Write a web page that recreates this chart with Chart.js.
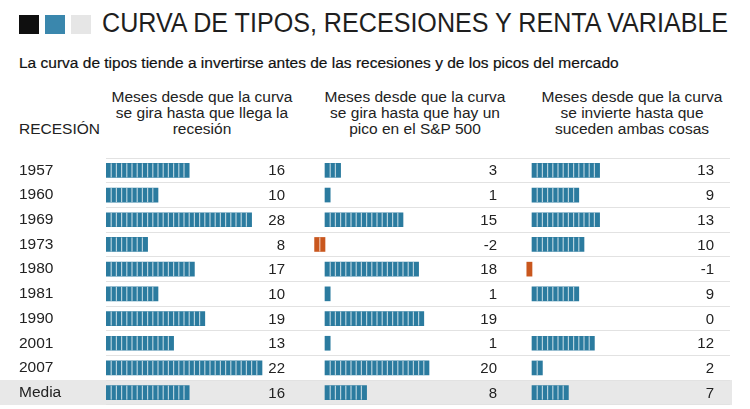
<!DOCTYPE html>
<html lang="es">
<head>
<meta charset="utf-8">
<title>Curva de tipos, recesiones y renta variable</title>
<script src="https://cdn.jsdelivr.net/npm/chart.js@4.4.1/dist/chart.umd.min.js"></script>
<style>
  html, body { margin: 0; padding: 0; background: #fff; }
  body {
    width: 750px; height: 409px; position: relative; overflow: hidden;
    font-family: "Liberation Sans", Arial, sans-serif; color: #222;
  }
  .sq { position: absolute; top: 15px; width: 20px; height: 19px; }
  #titulo {
    position: absolute; left: 102px; top: 8px; font-size: 27px; white-space: nowrap;
    transform-origin: left top; transform: scaleX(0.93); color: #1e1e1e;
  }
  #subtitulo {
    position: absolute; left: 19px; top: 54px; font-size: 15.5px; white-space: nowrap; color: #111;
    -webkit-text-stroke: 0.2px #111;
  }
  .cab {
    position: absolute; top: 89px; width: 240px; margin-left: -120px;
    text-align: center; font-size: 15.5px; line-height: 16px;
  }
  #recesion { position: absolute; left: 19px; top: 120px; font-size: 15.5px; }
  #media-fondo { position: absolute; left: 0; width: 732px; top: 380px; height: 25px; background: #e8e8e8; }
  canvas { position: absolute; top: 157px; }
</style>
</head>
<body>
<div class="sq" style="left:19px;background:#0f0f0f"></div>
<div class="sq" style="left:45px;background:#3a87ad"></div>
<div class="sq" style="left:71px;background:#e6e6e6"></div>
<div id="titulo">CURVA DE TIPOS, RECESIONES Y RENTA VARIABLE</div>
<div id="subtitulo">La curva de tipos tiende a invertirse antes de las recesiones y de los picos del mercado</div>
<div id="recesion">RECESIÓN</div>
<div class="cab" style="left:202px">Meses desde que la curva<br>se gira hasta que llega la<br>recesión</div>
<div class="cab" style="left:415px">Meses desde que la curva<br>se gira hasta que hay un<br>pico en el S&amp;P 500</div>
<div class="cab" style="left:632px">Meses desde que la curva<br>se invierte hasta que<br>suceden ambas cosas</div>
<div id="media-fondo"></div>

<canvas id="col1" width="301" height="249" style="left:0"></canvas>
<canvas id="col2" width="212" height="249" style="left:301px"></canvas>
<canvas id="col3" width="217" height="249" style="left:513px"></canvas>

<script>
const ANIOS = ["1957", "1960", "1969", "1973", "1980", "1981", "1990", "2001", "2007", "Media"];

// meses hasta la recesión (cifra) y largo de la barra dibujada:
// en el original la barra de 2007 mide 30 aunque la cifra dice 22
const mesesRecesion = [16, 10, 28, 8, 17, 10, 19, 13, 22, 16];
const barraRecesion = [16, 10, 28, 8, 17, 10, 19, 13, 30, 16];
const mesesPicoSP = [3, 1, 15, -2, 18, 1, 19, 1, 20, 8];
const mesesAmbas = [13, 9, 13, 10, -1, 9, 0, 12, 2, 7];

const AZUL = '#2b7b9f';
const NARANJA = '#c9571e';
const PX_POR_MES = 5.2;

// separa cada barra en bloques de un mes y escribe la cifra a la derecha
const bloquesYCifras = {
  id: 'bloquesYCifras',
  afterDatasetsDraw(chart, args, opts) {
    const ctx = chart.ctx;
    const x = chart.scales.x;
    const meta = chart.getDatasetMeta(0);
    const datos = chart.data.datasets[0].data;
    ctx.save();
    meta.data.forEach((bar, i) => {
      const v = datos[i];
      const h = bar.height;
      ctx.fillStyle = 'rgba(255,255,255,0.65)';
      for (let k = 1; k < Math.abs(v); k++) {
        const px = x.getPixelForValue(Math.sign(v) * k);
        ctx.fillRect(px - 0.6, bar.y - h / 2, 1.2, h);
      }
      ctx.fillStyle = '#222';
      ctx.font = '15px "Liberation Sans", Arial, sans-serif';
      ctx.textAlign = 'right';
      ctx.textBaseline = 'middle';
      ctx.fillText(String(opts.cifras[i]), chart.chartArea.right - 16, bar.y + 1);
    });
    ctx.restore();
  }
};

function crearColumna(id, valores, cifras, ceroPx, conAnios) {
  const canvas = document.getElementById(id);
  const izq = conAnios ? 106 : 0;
  const ancho = canvas.width - izq;
  return new Chart(canvas, {
    type: 'bar',
    data: {
      labels: ANIOS,
      datasets: [{
        data: valores,
        backgroundColor: valores.map(v => v < 0 ? NARANJA : (v === 0 ? 'rgba(0,0,0,0)' : AZUL)),
        borderWidth: 0,
        barThickness: 14
      }]
    },
    plugins: [bloquesYCifras],
    options: {
      indexAxis: 'y',
      responsive: false,
      animation: false,
      layout: { padding: { left: conAnios ? 19 : 0, top: 1, bottom: 1, right: 0 } },
      scales: {
        x: {
          type: 'linear',
          display: false,
          min: -(ceroPx - izq) / PX_POR_MES,
          max: (ancho - (ceroPx - izq)) / PX_POR_MES
        },
        y: {
          type: 'category',
          grid: { offset: true, color: '#e2e2e2', lineWidth: 1, drawTicks: false },
          border: { display: false },
          ticks: {
            display: conAnios,
            crossAlign: 'far',
            padding: 0,
            color: '#222',
            font: { family: '"Liberation Sans", Arial, sans-serif', size: 15.5 }
          },
          afterFit: s => {
            s.width = conAnios ? 87 : 0;
            s.paddingTop = 0;
            s.paddingBottom = 0;
          }
        }
      },
      plugins: {
        legend: { display: false },
        tooltip: { enabled: false },
        bloquesYCifras: { cifras: cifras }
      }
    }
  });
}

crearColumna('col1', barraRecesion, mesesRecesion, 106, true);
crearColumna('col2', mesesPicoSP, mesesPicoSP, 325 - 301, false);
crearColumna('col3', mesesAmbas, mesesAmbas, 532 - 513, false);
</script>
</body>
</html>
